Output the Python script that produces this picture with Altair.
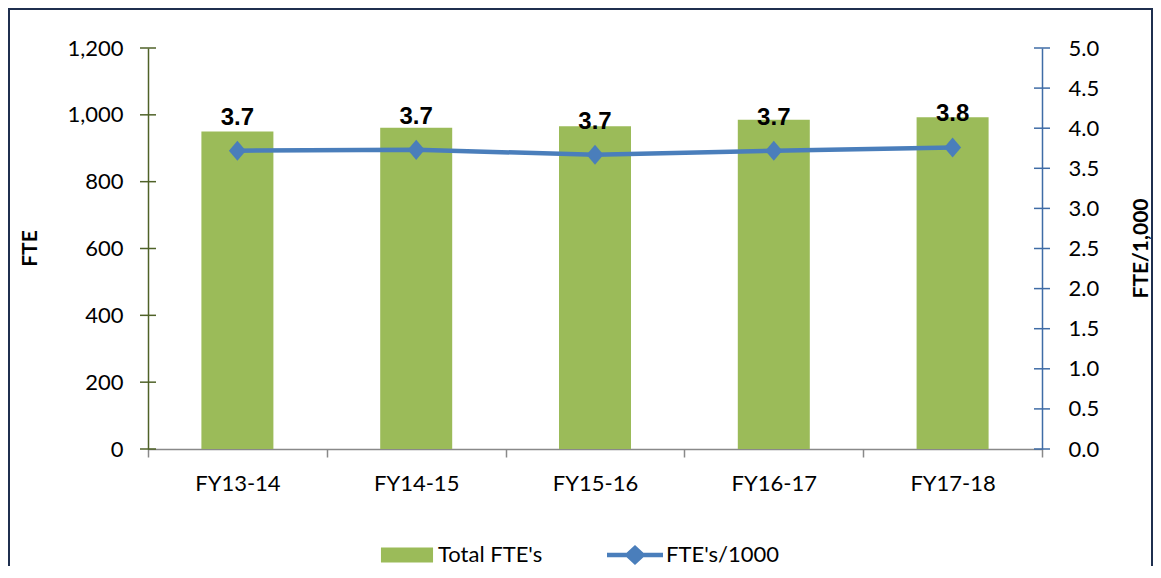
import altair as alt
import pandas as pd

# ---- data ----
years = ["FY13-14", "FY14-15", "FY15-16", "FY16-17", "FY17-18"]
total_fte = [950, 961, 966, 985, 993]
fte_per_1000 = [3.72, 3.73, 3.67, 3.72, 3.76]
series_names = ["Total FTE's", "FTE's/1000"]
left_tick_values = [0, 200, 400, 600, 800, 1000, 1200]
right_tick_values = [0.0, 0.5, 1.0, 1.5, 2.0, 2.5, 3.0, 3.5, 4.0, 4.5, 5.0]

GREEN = "#9BBB59"
BLUE = "#4A7EBB"
LEFT_AXIS = "#4F6228"
RIGHT_AXIS = "#3F6CA6"
GRAY = "#898989"
BORDER = "#1F2F4F"
FONT = "Lato"

W, H = 894, 401

df = pd.DataFrame({
    "year": years,
    "fte": total_fte,
    "ratio": fte_per_1000,
    "bar_series": [series_names[0]] * len(years),
    "line_series": [series_names[1]] * len(years),
})
left_ticks_df = pd.DataFrame({"fte": left_tick_values})
right_ticks_df = pd.DataFrame({"ratio": right_tick_values})

x_enc = alt.X(
    "year:N", sort=years,
    scale=alt.Scale(paddingInner=0, paddingOuter=0),
    axis=alt.Axis(
        title=None, labelAngle=0, labelFont=FONT, labelFontSize=22, labelColor="#000",
        labelBaseline="top", labelPadding=16, tickSize=8, tickBand="extent",
        domainColor=GRAY, domainWidth=1.5, tickColor=GRAY, tickWidth=1.5, grid=False,
    ),
)

y_left = alt.Y(
    "fte:Q",
    scale=alt.Scale(domain=[0, 1200], nice=False, zero=True),
    axis=alt.Axis(
        title="FTE", values=left_tick_values, format=",.0f", ticks=False, tickSize=0,
        domainColor=LEFT_AXIS, domainWidth=1.5, labelFont=FONT, labelFontSize=22,
        labelColor="#000", labelPadding=25, grid=False,
        titleFont=FONT, titleFontSize=21, titleFontWeight="bold", titleColor="#000",
        titleAngle=270, titleX=-118, titleY=200, titleAlign="center", titleBaseline="middle",
    ),
)

y_right = alt.Y(
    "ratio:Q",
    scale=alt.Scale(domain=[0, 5], nice=False, zero=True),
    axis=alt.Axis(
        orient="right", title="FTE/1,000", values=right_tick_values, format=".1f",
        ticks=False, tickSize=0, domainColor=RIGHT_AXIS, domainWidth=1.5,
        labelFont=FONT, labelFontSize=22, labelColor="#000", labelPadding=26, grid=False,
        titleFont=FONT, titleFontSize=21, titleFontWeight="bold", titleColor="#000",
        titleAngle=270, titleX=99, titleY=200, titleAlign="center", titleBaseline="middle",
    ),
)

legend = alt.Legend(
    title=None, orient="none", legendX=231, legendY=479, direction="horizontal",
    symbolSize=3136, labelFont=FONT, labelFontSize=22, labelColor="#000",
    labelOffset=3, columnPadding=64, padding=0, labelLimit=400,
    symbolType=alt.ExprRef(expr="datum.index === 1 ? 'M-1,-0.08H-0.3L0,-0.36L0.3,-0.08H1V0.08H0.3L0,0.36L-0.3,0.08H-1Z' : 'M-0.93,-0.27H0.93V0.27H-0.93Z'"),
    symbolFillColor=alt.ExprRef(expr="datum.index === 1 ? '" + BLUE + "' : '" + GREEN + "'"),
    symbolStrokeWidth=0,
    symbolOpacity=1,
)
color_scale = alt.Scale(domain=series_names, range=[GREEN, BLUE])

border = alt.Chart(pd.DataFrame({"k": [0]})).mark_rect(
    fill="transparent", stroke=BORDER, strokeWidth=2
).encode(x=alt.value(-139), x2=alt.value(1004), y=alt.value(-39), y2=alt.value(700))

bars = alt.Chart(df).mark_bar(size=72).encode(
    x=x_enc, y=y_left,
    color=alt.Color("bar_series:N", scale=color_scale, legend=legend),
)

left_ticks = alt.Chart(left_ticks_df).mark_rule(color=LEFT_AXIS, strokeWidth=1.5).encode(
    y=y_left, x=alt.value(-8), x2=alt.value(8)
)

line = alt.Chart(df).mark_line(strokeWidth=4.5).encode(
    x=x_enc, y=y_right,
    color=alt.Color("line_series:N", scale=color_scale, legend=legend),
)

points = alt.Chart(df).mark_point(
    filled=True, color=BLUE, opacity=1, size=289,
    shape="M-1,0L0,-1.18L1,0L0,1.18Z",
).encode(x=x_enc, y=y_right)

labels = alt.Chart(df).mark_text(
    font="Liberation Sans", fontSize=24, fontWeight="bold", color="#000",
    baseline="alphabetic", dy=-26,
).encode(x=x_enc, y=y_right, text=alt.Text("ratio:Q", format=".1f"))

right_ticks = alt.Chart(right_ticks_df).mark_rule(color=RIGHT_AXIS, strokeWidth=1.5).encode(
    y=y_right, x=alt.value(W - 8), x2=alt.value(W + 8)
)

left_layer = alt.layer(border, bars, left_ticks)
right_layer = alt.layer(line, points, labels, right_ticks)

chart = alt.layer(left_layer, right_layer).resolve_scale(
    y="independent", color="shared"
).properties(
    width=W, height=H,
    padding={"left": 140, "top": 40, "right": 111, "bottom": 117},
    autosize=alt.AutoSizeParams(type="none"),
    background="white",
).configure_view(stroke=None)

chart.save("out.html", embed_options={"renderer": "svg", "actions": False})
